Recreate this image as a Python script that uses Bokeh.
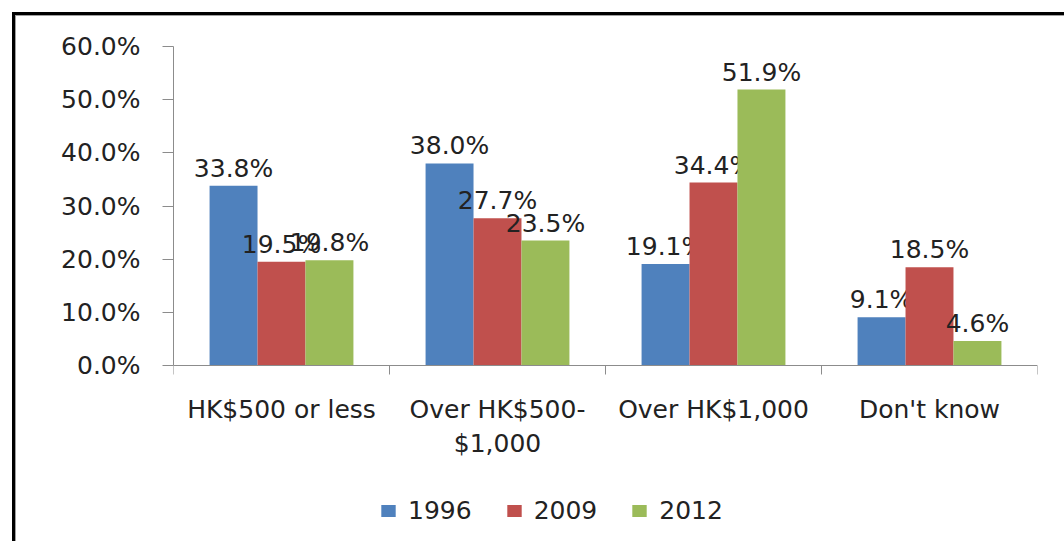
from bokeh.plotting import figure
from bokeh.models import (ColumnDataSource, Range1d, FixedTicker, PrintfTickFormatter,
                          Legend, LegendItem)
from bokeh.transform import dodge
from bokeh.core.properties import value
from bokeh.embed import file_html
from bokeh.resources import INLINE

categories = ["HK$500 or less", "Over HK$500-\n$1,000", "Over HK$1,000", "Don't know"]
years = ["1996", "2009", "2012"]
v1996 = [33.8, 38.0, 19.1, 9.1]
v2009 = [19.5, 27.7, 34.4, 18.5]
v2012 = [19.8, 23.5, 51.9, 4.6]
y_ticks = [0, 10, 20, 30, 40, 50, 60]
colors = ["#4F81BD", "#C0504D", "#9BBB59"]

FONT = "DejaVu Sans"
FS = "25px"
TXT = "#222222"
AX = "#8C8C8C"

xs = list(range(len(categories)))
series = [v1996, v2009, v2012]
data = dict(x=xs)
for yr, vals in zip(years, series):
    data["v" + yr] = vals
    data["l" + yr] = [f"{v:.1f}%" for v in vals]
src = ColumnDataSource(data)

W, H = 1064, 541
# frame runs to the bottom of the canvas so the legend below the axis is not clipped;
# the value axis is bounded to 0..60 and the category axis sits at 0.
p = figure(width=W, height=H, output_backend="svg", toolbar_location=None,
           x_range=Range1d(-0.5, len(categories) - 0.5), y_range=Range1d(-33.1, 60),
           min_border_left=173, min_border_right=27, min_border_top=46, min_border_bottom=0)
p.outline_line_color = None
p.xgrid.visible = False
p.ygrid.visible = False
p.border_fill_alpha = 0
p.background_fill_color = "white"
# outer chart border: top and left edges (drawn behind the transparent canvas)
p.styles = {"box-shadow": "inset 12px 12px 0 0 white, inset 15px 15px 0 0 black, inset 16px 16px 0 0 #A0A0A0",
            "background-color": "white"}

bw = 0.222
offsets = [-bw, 0.0, bw]
renderers = []
for yr, col, off in zip(years, colors, offsets):
    r = p.vbar(x=dodge("x", off), top="v" + yr, width=bw, source=src,
               fill_color=col, line_color=None)
    renderers.append(r)
    p.text(x=dodge("x", off), y="v" + yr, text="l" + yr, source=src,
           text_align="center", text_baseline="bottom", y_offset=-3,
           text_font=value(FONT), text_font_size=value(FS), text_color=TXT)

xa = p.xaxis[0]
xa.fixed_location = 0
xa.ticker = FixedTicker(ticks=xs, minor_ticks=[i - 0.5 for i in range(len(categories) + 1)])
xa.major_label_overrides = {i: c for i, c in zip(xs, categories)}
xa.major_tick_line_color = None
xa.major_tick_in = 0
xa.major_tick_out = 9
xa.minor_tick_in = 0
xa.minor_tick_out = 9
xa.minor_tick_line_color = AX
xa.axis_line_color = AX
xa.major_label_standoff = 20
xa.major_label_text_font = FONT
xa.major_label_text_font_size = FS
xa.major_label_text_color = TXT

ya = p.yaxis[0]
ya.bounds = (0, 60)
ya.ticker = FixedTicker(ticks=y_ticks, minor_ticks=[])
ya.formatter = PrintfTickFormatter(format="%.1f%%")
ya.major_tick_in = 0
ya.major_tick_out = 11
ya.major_tick_line_color = AX
ya.axis_line_color = AX
ya.minor_tick_line_color = None
ya.major_label_standoff = 22
ya.major_label_text_font = FONT
ya.major_label_text_font_size = FS
ya.major_label_text_color = TXT

legend = Legend(items=[LegendItem(label=yr, renderers=[r]) for yr, r in zip(years, renderers)],
                orientation="horizontal", location=(206, 16),
                label_text_font=FONT, label_text_font_size=FS, label_text_color=TXT,
                glyph_width=18, glyph_height=15, label_standoff=11, spacing=33,
                padding=0, margin=0, border_line_color=None, background_fill_alpha=0)
p.add_layout(legend)

open("out.html", "w").write(file_html(p, INLINE))
